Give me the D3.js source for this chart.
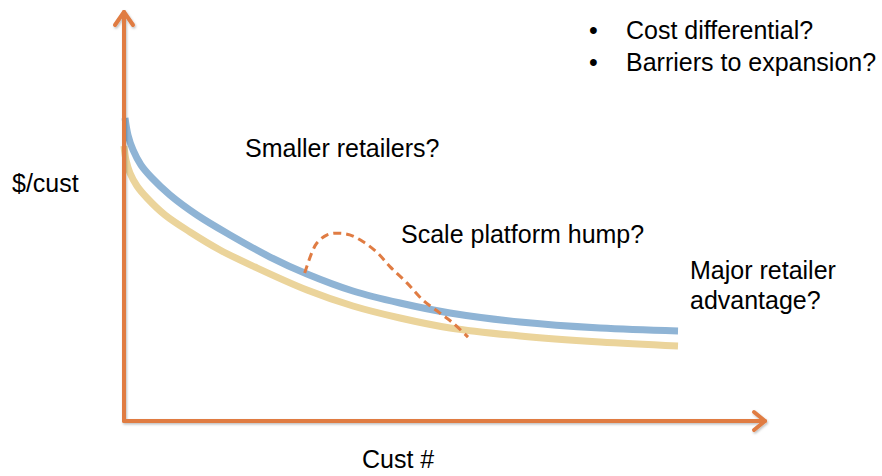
<!DOCTYPE html>
<html><head><meta charset="utf-8">
<script src="https://cdn.jsdelivr.net/npm/d3@7/dist/d3.min.js"></script>
<style>body{margin:0;background:#fff}svg{display:block}text{font-family:"Liberation Sans",Arial,sans-serif;font-size:25px;fill:#000}</style>
</head><body>
<svg id="c" width="882" height="476"></svg>
<script>
// Data (x: customers, y: $/customer, arbitrary units 0..100)
const xMax = 100, yMax = 100;
const incumbentX = [0.16, 0.62, 1.40, 2.64, 4.35, 7.15, 11.35, 16.49, 22.71, 28.46, 35.61, 42.92, 50.70, 61.59, 74.03, 86.16];
const incumbentY = [73.72, 69.59, 65.94, 62.29, 59.12, 54.99, 50.12, 45.26, 39.90, 35.77, 31.63, 28.71, 26.28, 24.09, 22.63, 21.90];
const majorX = [0, 0.31, 0.93, 2.02, 3.58, 6.38, 10.26, 14.93, 20.37, 28.46, 35.61, 42.92, 50.70, 61.59, 74.03, 86.16];
const majorY = [66.91, 63.50, 60.34, 57.18, 54.26, 50.12, 45.99, 41.61, 37.47, 31.87, 27.98, 25.06, 22.63, 20.68, 19.22, 18.25];
const humpX = [28.1, 29.2, 30.0, 31.6, 33.3, 35.1, 37.2, 39.3, 41.4, 44.0, 46.5, 49.1, 51.2, 53.5];
const humpY = [36.0, 40.9, 43.3, 45.3, 45.7, 45.3, 43.6, 41.1, 37.5, 33.6, 29.4, 26.3, 23.8, 20.4];
const labels = [
  {t:"Smaller retailers?", x:245, y:157},
  {t:"Scale platform hump?", x:401, y:243},
  {t:"Major retailer", x:690, y:279},
  {t:"advantage?", x:690, y:309},
  {t:"$/cust", x:12, y:192},
  {t:"Cust #", x:362, y:468}
];
const bullets = ["Cost differential?", "Barriers to expansion?"];

const svg = d3.select("#c");
const x = d3.scaleLinear().domain([0, xMax]).range([124, 767]);
const y = d3.scaleLinear().domain([0, yMax]).range([421, 10]);

const defs = svg.append("defs");
const f = defs.append("filter").attr("id","sh").attr("x","-10%").attr("y","-10%").attr("width","120%").attr("height","120%");
f.append("feDropShadow").attr("dx",1).attr("dy",1.5).attr("stdDeviation",1.2).attr("flood-color","#000").attr("flood-opacity",0.25);

const line = d3.line().x(d=>x(d[0])).y(d=>y(d[1])).curve(d3.curveCatmullRom.alpha(0.5));
const zip = (a,b)=>a.map((v,i)=>[v,b[i]]);

// curves
svg.append("path").attr("d", line(zip(majorX, majorY)))
  .attr("fill","none").attr("stroke","#EBD49B").attr("stroke-width",7);
svg.append("path").attr("d", line(zip(incumbentX, incumbentY)))
  .attr("fill","none").attr("stroke","#8FB4D5").attr("stroke-width",7);

// axes
const ax = svg.append("g").attr("filter","url(#sh)").attr("stroke","#E07C43").attr("stroke-width",4).attr("fill","none").attr("stroke-linecap","round");
ax.append("line").attr("x1",x(0)).attr("y1",y(0)).attr("x2",x(0)).attr("y2",y(yMax)+2);
ax.append("path").attr("d",`M${x(0)-9},${y(yMax)+15} L${x(0)},${y(yMax)+2} L${x(0)+9},${y(yMax)+15}`).attr("stroke-linejoin","round");
ax.append("line").attr("x1",x(0)).attr("y1",y(0)).attr("x2",x(xMax)-2).attr("y2",y(0));
ax.append("path").attr("d",`M${x(xMax)-13},${y(0)-9} L${x(xMax)-2},${y(0)} L${x(xMax)-13},${y(0)+9}`).attr("stroke-linejoin","round");

// hump
svg.append("path").attr("d", line(zip(humpX, humpY)))
  .attr("fill","none").attr("stroke","#E07C43").attr("stroke-width",3).attr("stroke-dasharray","8,5");

// labels
svg.selectAll("text.l").data(labels).enter().append("text").attr("class","l")
  .attr("x",d=>d.x).attr("y",d=>d.y).text(d=>d.t);

const b = svg.selectAll("g.b").data(bullets).enter().append("g").attr("class","b");
b.append("text").attr("x",589).attr("y",(d,i)=>39+i*32).text("•");
b.append("text").attr("x",626).attr("y",(d,i)=>39+i*32).text(d=>d);
</script>
</body></html>
